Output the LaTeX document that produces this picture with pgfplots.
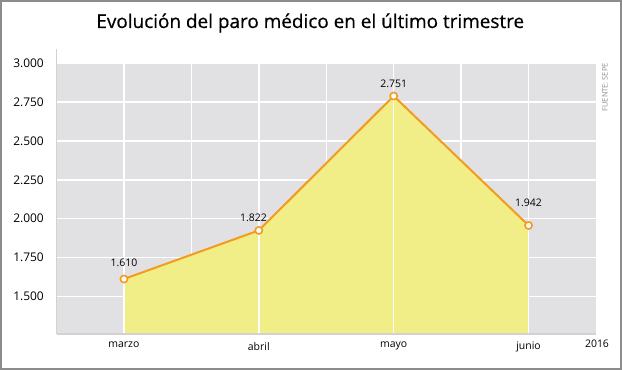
\documentclass[border=0pt]{standalone}
\usepackage{fontspec}
\setmainfont{Open Sans}
\newfontfamily\titlefont[FakeBold=0.5]{Open Sans}
\usepackage{pgfplots}
\pgfplotsset{compat=1.18}
\usetikzlibrary{calc}
\definecolor{bgc}{HTML}{E1E1E3}
\definecolor{yel}{HTML}{F2EE87}
\definecolor{org}{HTML}{F29B1E}
\definecolor{frm}{HTML}{8C8C8C}
\definecolor{axl}{HTML}{D2D2D2}
\begin{document}
\begin{tikzpicture}
\begin{axis}[
  scale only axis, width=539.5bp, height=271bp,
  xmin=-0.5, xmax=3.5, ymin=1260, ymax=3000,
  axis background/.style={fill=bgc},
  axis line style={draw=none},
  xtick={0,1,2,3}, xticklabels={marzo,abril,mayo,junio},
  minor xtick={0.5,1.5,2.5},
  ytick={1500,1750,2000,2250,2500,2750,3000},
  yticklabels={1.500,1.750,2.000,2.250,2.500,2.750,3.000},
  grid=both,
  major grid style={white, line width=1.5bp},
  minor grid style={white, line width=1.5bp},
  major tick length=0pt, minor tick length=0pt,
  tick style={draw=none},
  yticklabel style={font=\fontsize{12}{14}\selectfont, inner sep=0pt, anchor=east, xshift=-12.5bp},
  xticklabel style={font=\fontsize{10.5}{12}\selectfont, inner sep=0pt, anchor=north, yshift=-8bp},
  clip=false,
]
\addplot[fill=yel, draw=none] coordinates {(0,1613) (1,1925) (2,2788) (3,1957)} \closedcycle;
\draw[white, line width=1.5bp] (axis cs:0,1260) -- (axis cs:0,3000);
\draw[white, line width=1.5bp] (axis cs:1,1260) -- (axis cs:1,3000);
\draw[white, line width=1.5bp] (axis cs:2,1260) -- (axis cs:2,3000);
\draw[white, line width=1.5bp] (axis cs:3,1260) -- (axis cs:3,3000);
\addplot[draw=org, line width=2bp, mark=*, mark size=3.6bp,
  mark options={fill=white, draw=org, line width=1.6bp}]
  coordinates {(0,1613) (1,1925) (2,2788) (3,1957)};
\addplot[draw=none, mark=none, nodes near coords, point meta=explicit symbolic,
  nodes near coords style={font=\fontsize{10.5}{12}\selectfont, text=black, anchor=south, inner sep=0pt}]
  coordinates {(0,1692)[1.610] (0.96,1981)[1.822] (2,2840)[2.751] (3,2077)[1.942]};
\coordinate (sw) at (rel axis cs:0,0);
\coordinate (ne) at (rel axis cs:1,1);
\coordinate (nw) at (rel axis cs:0,1);
\coordinate (se) at (rel axis cs:1,0);
\end{axis}
\draw[axl, line width=1bp] (sw) -- ($(nw)+(0,14bp)$);
\draw[axl, line width=1.5bp] (sw) -- (se);
\draw[frm, line width=2.5bp] ($(sw)+(-55.25bp,-34.75bp)$) rectangle ($(ne)+(24.75bp,61.75bp)$);
\node[font=\titlefont\fontsize{19}{22}\selectfont, anchor=base, inner sep=0pt] at ($(nw)!0.5!(ne)+(-16bp,35bp)$) {Evolución del paro médico en el último trimestre};
\node[font=\fontsize{10.5}{12}\selectfont, anchor=base, inner sep=0pt] at ($(se)+(1bp,-13.5bp)$) {2016};
\node[font=\fontsize{7.5}{9}\selectfont, text=frm, rotate=90, anchor=east, inner sep=0pt] at ($(ne)+(9bp,0bp)$) {FUENTE: SEPE};
\end{tikzpicture}
\end{document}
